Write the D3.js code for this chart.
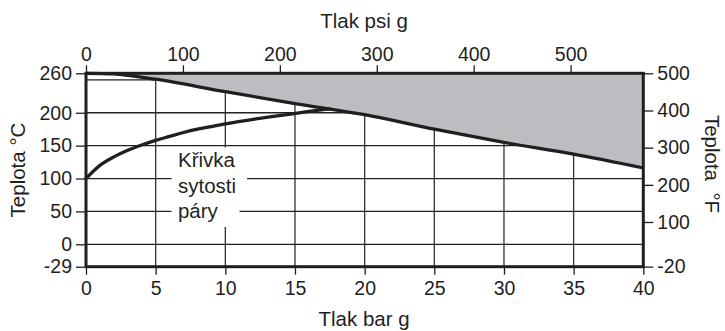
<!DOCTYPE html>
<html>
<head>
<meta charset="utf-8">
<script src="https://cdn.jsdelivr.net/npm/d3@7"></script>
<style>
  html, body { margin: 0; padding: 0; background: #fff; }
  svg { display: block; font-family: "Liberation Sans", Arial, sans-serif; }
</style>
</head>
<body>
<div id="chart"></div>
<script>
// Tlak / teplota – křivka sytosti páry a mez materiálu

// Osy
const barTicks = [0, 5, 10, 15, 20, 25, 30, 35, 40];
const psiTicks = [0, 100, 200, 300, 400, 500];
const tempCTicks = [-29, 0, 50, 100, 150, 200, 260];
const tempCGrid = [0, 50, 100, 150, 200, 250];
const tempFTicks = [-20, 100, 200, 300, 400, 500];
const psiMax = 575; // psi na pravém okraji

// Křivka sytosti páry (bar g -> °C)
const satBar  = [0, 1, 2, 3, 4, 5, 6, 7, 8, 9, 10, 12, 14, 16, 17.5];
const satTemp = [100, 120, 133, 143, 151, 158, 164, 170, 175, 179, 183, 190, 196, 202, 206];

// Mezní čára (bar g -> °C), nad ní šedá plocha
const limitBar  = [0, 2, 3, 5, 10, 15, 20, 25, 30, 35, 40];
const limitTemp = [260, 259, 257, 251, 232, 214, 197, 175, 155, 137, 116];

const labelLines = ["Křivka", "sytosti", "páry"];

const W = 725, H = 331;
const M = { top: 73.3, right: 81.7, bottom: 64.3, left: 86 };

const svg = d3.select("#chart").append("svg")
  .attr("width", W)
  .attr("height", H);

const ink = "#1f1f1f";
const fillGray = "#bcbdc1";

const x = d3.scaleLinear().domain([0, 40]).range([M.left, W - M.right]);
const xPsi = d3.scaleLinear().domain([0, psiMax]).range([M.left, W - M.right]);
// osa °C není v obrázku lineární pod nulou
const y = d3.scaleLinear().domain([-29, 0, 260]).range([H - M.bottom, 244.3, M.top]);
const fToC = f => (f - 32) * 5 / 9;
const plain = d => String(d); // obyčejný spojovník místo minus

// Mřížka
const gGrid = svg.append("g");
gGrid.selectAll("line.v")
  .data(barTicks.slice(1, -1))
  .join("line")
  .attr("x1", d => x(d)).attr("x2", d => x(d))
  .attr("y1", y(260)).attr("y2", y(-29))
  .attr("stroke", "#333").attr("stroke-width", 1.3);
gGrid.selectAll("line.h")
  .data(tempCGrid)
  .join("line")
  .attr("x1", x(0)).attr("x2", x(40))
  .attr("y1", d => y(d)).attr("y2", d => y(d))
  .attr("stroke", "#222").attr("stroke-width", 1.3);

// Šedá plocha nad mezní čárou
const limitData = limitBar.map((b, i) => ({ b, t: limitTemp[i] }));
const satData = satBar.map((b, i) => ({ b, t: satTemp[i] }));

svg.append("path")
  .datum(limitData)
  .attr("fill", fillGray)
  .attr("d", d3.area()
    .x(d => x(d.b))
    .y0(y(260))
    .y1(d => y(d.t))
    .curve(d3.curveMonotoneX));

// Popisek s bílým podkladem
const gLabel = svg.append("g");
gLabel.append("rect")
  .attr("x", x(6.14)).attr("y", y(147.2))
  .attr("width", x(11.56) - x(6.14))
  .attr("height", y(70.4) - y(147.2))
  .attr("fill", "#fff");
gLabel.append("rect")
  .attr("x", x(6.14)).attr("y", y(70.4))
  .attr("width", x(11.02) - x(6.14))
  .attr("height", y(26.3) - y(70.4))
  .attr("fill", "#fff");
gLabel.selectAll("text")
  .data(labelLines)
  .join("text")
  .attr("x", x(6.6))
  .attr("y", (d, i) => y(117) + i * 25.5)
  .style("font-size", "20.5px")
  .style("fill", ink)
  .text(d => d);

// Křivky
svg.append("path")
  .datum(limitData)
  .attr("fill", "none")
  .attr("stroke", ink)
  .attr("stroke-width", 3.3)
  .attr("d", d3.line().x(d => x(d.b)).y(d => y(d.t)).curve(d3.curveMonotoneX));

svg.append("path")
  .datum(satData)
  .attr("fill", "none")
  .attr("stroke", ink)
  .attr("stroke-width", 3.3)
  .attr("stroke-linecap", "round")
  .attr("d", d3.line().x(d => x(d.b)).y(d => y(d.t)).curve(d3.curveMonotoneX));

// Osy
function styleAxis(g) {
  g.select(".domain").remove();
  g.selectAll(".tick line").attr("stroke", ink).attr("stroke-width", 1.3);
  g.selectAll(".tick text")
    .style("font-size", "19.5px")
    .style("fill", ink)
    .style("font-family", "'Liberation Sans', Arial, sans-serif");
}

svg.append("g")
  .attr("transform", `translate(0,${y(-29)})`)
  .call(d3.axisBottom(x).tickValues(barTicks).tickFormat(plain).tickSize(8).tickPadding(6.5).tickSizeOuter(0))
  .call(styleAxis);

svg.append("g")
  .attr("transform", `translate(0,${y(260)})`)
  .call(d3.axisTop(xPsi).tickValues(psiTicks).tickFormat(plain).tickSize(8).tickPadding(4).tickSizeOuter(0))
  .call(styleAxis);

svg.append("g")
  .attr("transform", `translate(${x(0)},0)`)
  .call(d3.axisLeft(y).tickValues(tempCTicks).tickFormat(plain).tickSize(10).tickPadding(4).tickSizeOuter(0))
  .call(styleAxis);

const yF = d3.scaleLinear().domain([-20, 500]).range([y(fToC(-20)), y(fToC(500))]);
svg.append("g")
  .attr("transform", `translate(${x(40)},0)`)
  .call(d3.axisRight(yF).tickValues(tempFTicks).tickFormat(plain).tickSize(10).tickPadding(4).tickSizeOuter(0))
  .call(styleAxis);

// Rámeček
svg.append("rect")
  .attr("x", x(0)).attr("y", y(260))
  .attr("width", x(40) - x(0))
  .attr("height", y(-29) - y(260))
  .attr("fill", "none")
  .attr("stroke", ink)
  .attr("stroke-width", 3);

// Názvy os
const titleStyle = t => t.style("font-size", "20.5px").style("fill", ink);

svg.append("text")
  .attr("x", (x(0) + x(40)) / 2 - 0.6)
  .attr("y", 28.3)
  .attr("text-anchor", "middle")
  .call(titleStyle)
  .text("Tlak psi g");

svg.append("text")
  .attr("x", (x(0) + x(40)) / 2 - 0.6)
  .attr("y", 325.5)
  .attr("text-anchor", "middle")
  .call(titleStyle)
  .text("Tlak bar g");

svg.append("text")
  .attr("transform", `translate(25,170) rotate(-90)`)
  .attr("text-anchor", "middle")
  .call(titleStyle)
  .text("Teplota °C");

svg.append("text")
  .attr("transform", `translate(705,164) rotate(90)`)
  .attr("text-anchor", "middle")
  .call(titleStyle)
  .text("Teplota\u00a0\u00a0°F");
</script>
</body>
</html>
